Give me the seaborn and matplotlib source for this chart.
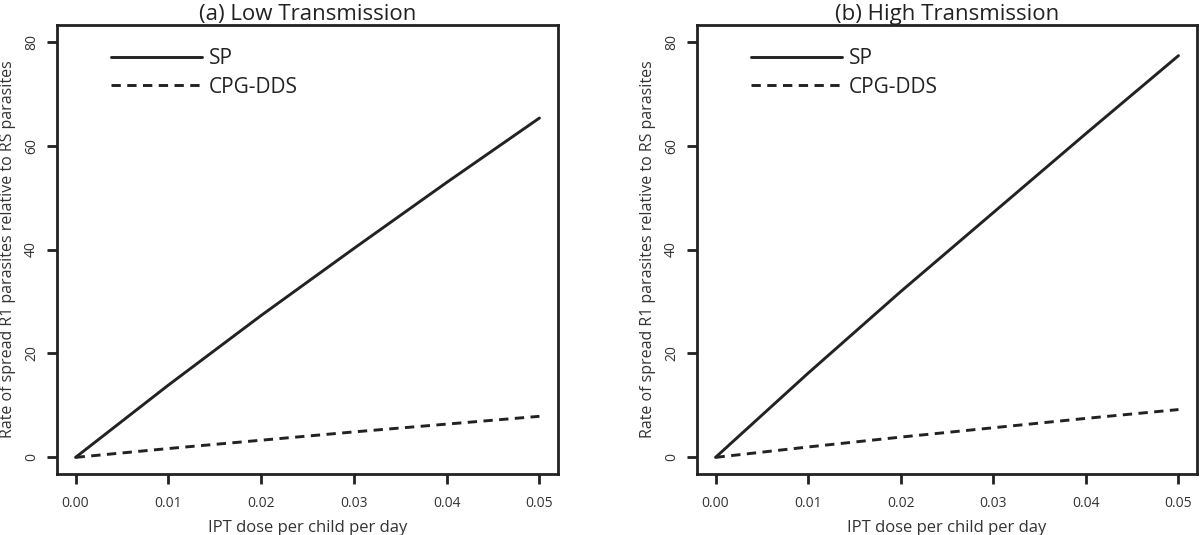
import numpy as np
import pandas as pd
import matplotlib
matplotlib.use("Agg")
import matplotlib.pyplot as plt
import seaborn as sns

sns.set_style("ticks")
plt.rcParams['font.family'] = ['Open Sans', 'DejaVu Sans']

# dose per child per day
dose = [0.00, 0.01, 0.02, 0.03, 0.04, 0.05]

# rate of spread of R1 relative to RS
low_sp = [0.0, 13.9, 27.3, 40.2, 52.9, 65.3]
low_cpg = [0.0, 1.7, 3.3, 4.9, 6.4, 7.9]
high_sp = [0.0, 16.2, 31.9, 47.1, 62.3, 77.3]
high_cpg = [0.0, 2.0, 3.9, 5.7, 7.5, 9.2]

titles = ["(a) Low Transmission", "(b) High Transmission"]
drugs = ["SP", "CPG-DDS"]

xticks = [0.00, 0.01, 0.02, 0.03, 0.04, 0.05]
xticklabels = ["0.00", "0.01", "0.02", "0.03", "0.04", "0.05"]
yticks = [0, 20, 40, 60, 80]

def make_df(sp, cpg):
    return pd.DataFrame({
        "dose": dose + dose,
        "rate": sp + cpg,
        "drug": ["SP"] * len(dose) + ["CPG-DDS"] * len(dose),
    })

fig = plt.figure(figsize=(12, 5.35), dpi=100)
W, H = 1200, 535
ax1 = fig.add_axes([57 / W, (H - 474) / H, 501 / W, 449 / H])
ax2 = fig.add_axes([697 / W, (H - 474) / H, 500 / W, 449 / H])

for ax, title, (sp, cpg) in zip([ax1, ax2], titles, [(low_sp, low_cpg), (high_sp, high_cpg)]):
    df = make_df(sp, cpg)
    sns.lineplot(data=df, x="dose", y="rate", style="drug", style_order=drugs,
                 dashes={"SP": "", "CPG-DDS": (3.2, 2.2)}, color="#222222",
                 linewidth=2.1, ax=ax, legend=False)
    ax.set_xlim(-0.002, 0.052)
    ax.set_ylim(-3.2, 83.2)
    ax.set_xticks(xticks)
    ax.set_xticklabels(xticklabels)
    ax.set_yticks(yticks)
    ax.set_yticklabels([str(v) for v in yticks], rotation=90, va="center")
    ax.tick_params(axis="both", direction="out", length=7, width=2, color="#222222",
                   labelsize=10, labelcolor="#333333", pad=6)
    ax.tick_params(axis="x", pad=9)
    for s in ax.spines.values():
        s.set_visible(True)
        s.set_linewidth(2)
        s.set_color("#222222")
    ax.set_title(title, fontsize=16, color="#222222", pad=3)
    ax.set_xlabel("IPT dose per child per day", fontsize=12, color="#333333", labelpad=6)
    ax.set_ylabel("Rate of spread R1 parasites relative to RS parasites",
                  fontsize=11.5, color="#333333", labelpad=6)

    handles = [
        plt.Line2D([], [], color="#222222", linewidth=2.1),
        plt.Line2D([], [], color="#222222", linewidth=2.1, dashes=(3.2, 2.2)),
    ]
    leg = ax.legend(handles, drugs, loc="upper left", bbox_to_anchor=(0.07, 0.99),
                    frameon=False, fontsize=15, handlelength=4.4, handletextpad=0.3,
                    labelspacing=0.35)
    for t in leg.get_texts():
        t.set_color("#222222")

fig.savefig("out.png", dpi=100)
